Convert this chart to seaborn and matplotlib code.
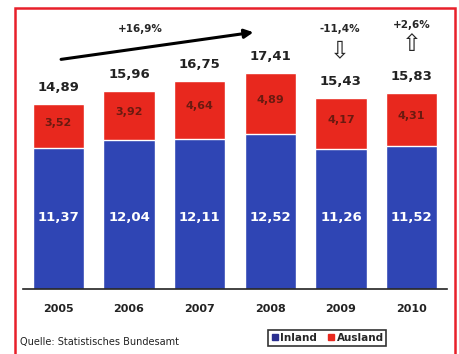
import matplotlib
matplotlib.use("Agg")
import matplotlib.pyplot as plt
from matplotlib.patches import Rectangle
from matplotlib.lines import Line2D
import seaborn as sns
import pandas as pd

years = ["2005", "2006", "2007", "2008", "2009", "2010"]
inland = [11.37, 12.04, 12.11, 12.52, 11.26, 11.52]
ausland = [3.52, 3.92, 4.64, 4.89, 4.17, 4.31]
totals = [14.89, 15.96, 16.75, 17.41, 15.43, 15.83]

BLUE = "#2f45b4"
RED = "#e8281e"

sns.set_theme(style="white")
plt.rcParams["font.family"] = ["DejaVu Sans"]

df = pd.DataFrame({"Jahr": years, "Inland": inland, "Ausland": ausland, "Gesamt": totals})

fig = plt.figure(figsize=(4.6, 3.54), dpi=100)
ax = fig.add_axes([23 / 460, 65 / 354, 424 / 460, 285 / 354])

# stacked bars: total in red, domestic part in blue on top of it
sns.barplot(data=df, x="Jahr", y="Gesamt", color=RED, width=0.73, saturation=1, ax=ax)
sns.barplot(data=df, x="Jahr", y="Inland", color=BLUE, width=0.73, saturation=1, ax=ax)

ax.set_xlim(-0.5, 5.5)
ax.set_ylim(0, 23)
ax.set_xlabel("")
ax.set_ylabel("")
ax.set_yticks([])
ax.set_xticks(range(len(years)))
ax.set_xticklabels(years, fontsize=8, fontweight="bold", color="#222222")
ax.tick_params(axis="x", length=0, pad=11)
for s in ["top", "left", "right"]:
    ax.spines[s].set_visible(False)
ax.spines["bottom"].set_color("#222222")
ax.spines["bottom"].set_linewidth(1.2)

fmt = lambda v: f"{v:.2f}".replace(".", ",")
for i in range(len(years)):
    ax.text(i, totals[i] + 1.35, fmt(totals[i]), ha="center", va="center",
            fontsize=9.5, fontweight="bold", color="#222222")
    ax.text(i, inland[i] + ausland[i] / 2 + 0.3, fmt(ausland[i]), ha="center", va="center",
            fontsize=8, fontweight="bold", color="#6a1a10")
    ax.text(i, 5.8, fmt(inland[i]), ha="center", va="center",
            fontsize=9.5, fontweight="bold", color="white")

# growth annotations
ax.annotate("", xy=(2.8, 20.75), xytext=(0.0, 18.5),
            arrowprops=dict(arrowstyle="-|>", color="black", lw=2.2, mutation_scale=13))
ax.text(1.16, 21.0, "+16,9%", ha="center", va="center", fontsize=7.5, fontweight="bold")
ax.text(3.98, 21.0, "-11,4%", ha="center", va="center", fontsize=7.5, fontweight="bold")
ax.text(3.98, 19.3, "\u21e9", ha="center", va="center", fontsize=17)
ax.text(5.0, 21.3, "+2,6%", ha="center", va="center", fontsize=7.5, fontweight="bold")
ax.text(5.0, 19.8, "\u21e7", ha="center", va="center", fontsize=17)

# outer red frame
fig.patches.append(Rectangle((15 / 460, -0.05), 440 / 460, 1.05 - 8 / 354,
                             transform=fig.transFigure, fill=False,
                             edgecolor="#e8202a", linewidth=1.8))

fig.text(20 / 460, 12 / 354, "Quelle: Statistisches Bundesamt", fontsize=7,
         ha="left", va="center", color="#222222")

handles = [Line2D([], [], marker="s", linestyle="", color="#2a2f90", markersize=4),
           Line2D([], [], marker="s", linestyle="", color=RED, markersize=4)]
leg = fig.legend(handles, ["Inland", "Ausland"], ncol=2, loc="center",
                 bbox_to_anchor=(327 / 460, 16 / 354), frameon=True, fancybox=False,
                 handletextpad=0.1, columnspacing=1.0, handlelength=0.8,
                 borderpad=0.25, prop={"size": 7.5, "weight": "bold"})
leg.get_frame().set_edgecolor("black")
leg.get_frame().set_linewidth(1.2)

fig.savefig("out.png", dpi=100)
